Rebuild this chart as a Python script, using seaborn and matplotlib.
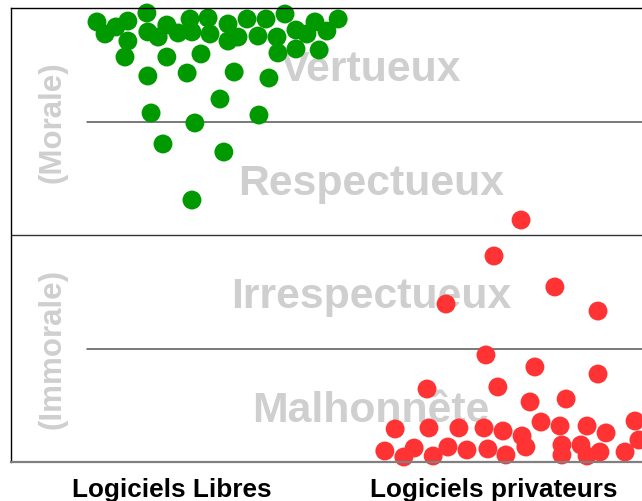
import matplotlib
matplotlib.use("Agg")
import matplotlib.pyplot as plt
import seaborn as sns
import pandas as pd

# ---- data ----
categories = ["Logiciels Libres", "Logiciels privateurs"]
band_labels = ["Malhonnête", "Irrespectueux", "Respectueux", "Vertueux"]
side_labels = ["(Immorale)", "(Morale)"]

green_x = [-0.233, -0.208, -0.174, -0.137, -0.137, -0.146, -0.078, -0.075, -0.043, -0.016,
           -0.016, -0.075, 0.019, 0.047, 0.056, 0.062, 0.090, 0.112, 0.118, 0.149,
           0.174, 0.174, 0.205, 0.193, 0.233, 0.267, 0.292, 0.301, 0.326, 0.329,
           0.351, 0.385, 0.385, 0.419, 0.444, 0.457, 0.481, 0.516, -0.065, 0.071,
           0.270, -0.028, 0.161, 0.062]
green_y = [3.877, 3.771, 3.833, 3.885, 3.709, 3.568, 3.956, 3.789, 3.744, 3.850,
           3.568, 3.401, 3.780, 3.427, 3.903, 3.789, 3.595, 3.912, 3.771, 3.198,
           3.859, 3.709, 3.744, 3.436, 3.903, 3.753, 3.903, 3.383, 3.744, 3.604,
           3.947, 3.806, 3.639, 3.771, 3.877, 3.630, 3.797, 3.903, 3.075, 2.987,
           3.057, 2.802, 2.731, 2.308]

red_x = [1.084, 1.000, 1.189, 0.851, 1.323, 0.975, 1.127, 1.323, 0.792, 1.012,
         1.112, 1.224, 0.693, 0.798, 0.891, 0.969, 1.028, 1.087, 1.146, 1.205,
         1.289, 1.348, 1.438, 1.450, 0.661, 0.720, 0.752, 0.811, 0.857, 0.916,
         0.981, 1.037, 1.099, 1.211, 1.211, 1.270, 1.289, 1.329, 1.407]
red_y = [2.132, 1.815, 1.542, 1.392, 1.330, 0.943, 0.837, 0.775, 0.643, 0.661,
         0.529, 0.555, 0.291, 0.300, 0.300, 0.300, 0.273, 0.229, 0.352, 0.317,
         0.317, 0.256, 0.361, 0.194, 0.097, 0.044, 0.123, 0.053, 0.132, 0.106,
         0.115, 0.062, 0.132, 0.150, 0.062, 0.150, 0.053, 0.088, 0.088]

# ---- build table ----
df = pd.concat([
    pd.DataFrame({"x": green_x, "y": green_y, "groupe": categories[0]}),
    pd.DataFrame({"x": red_x, "y": red_y, "groupe": categories[1]}),
], ignore_index=True)

sns.set_style("white")
plt.rcParams["font.family"] = ["Liberation Sans", "DejaVu Sans"]

W, H = 642, 502
fig = plt.figure(figsize=(W / 100, H / 100), dpi=100)
ax_left, ax_right, ax_top, ax_bottom = 11, 731, 9, 463
ax = fig.add_axes([ax_left / W, 1 - ax_bottom / H,
                   (ax_right - ax_left) / W, (ax_bottom - ax_top) / H])

ax.set_xlim(-0.5, 1.736)
ax.set_ylim(0, 4)

# horizontal band separators
ax.axhline(2, color="#333333", lw=1.0, zorder=0.5)
for yy in (1, 3):
    ax.axhline(yy, xmin=(87 - ax_left) / (ax_right - ax_left),
               color="#555555", lw=1.1, zorder=0.5)

# band labels
for i, lab in enumerate(band_labels):
    ax.text(0.618, i + 0.46, lab, ha="center", va="center", fontsize=30.8,
            fontweight="bold", color="#cfcfcf", zorder=0.8)
for i, lab in enumerate(side_labels):
    ax.text(-0.37, 2 * i + 1, lab, ha="center", va="center", fontsize=22.5,
            fontweight="bold", color="#cfcfcf", rotation=90, zorder=0.8)

sns.scatterplot(data=df, x="x", y="y", hue="groupe",
                palette={categories[0]: "#009900", categories[1]: "#ff3333"},
                s=185, linewidth=0, alpha=1, legend=False, ax=ax,
                clip_on=False, zorder=2)

ax.set_xticks([0, 1])
ax.set_xticklabels(categories, fontsize=18.8, fontweight="bold", color="black")
ax.set_yticks([])
ax.tick_params(axis="x", length=0, pad=11)
ax.set_xlabel("")
ax.set_ylabel("")

for side in ("top", "left"):
    ax.spines[side].set_color("black")
    ax.spines[side].set_linewidth(1.0)
ax.spines["bottom"].set_color("#808080")
ax.spines["bottom"].set_linewidth(1.6)
ax.spines["right"].set_visible(False)

fig.savefig("out.png", dpi=100)
